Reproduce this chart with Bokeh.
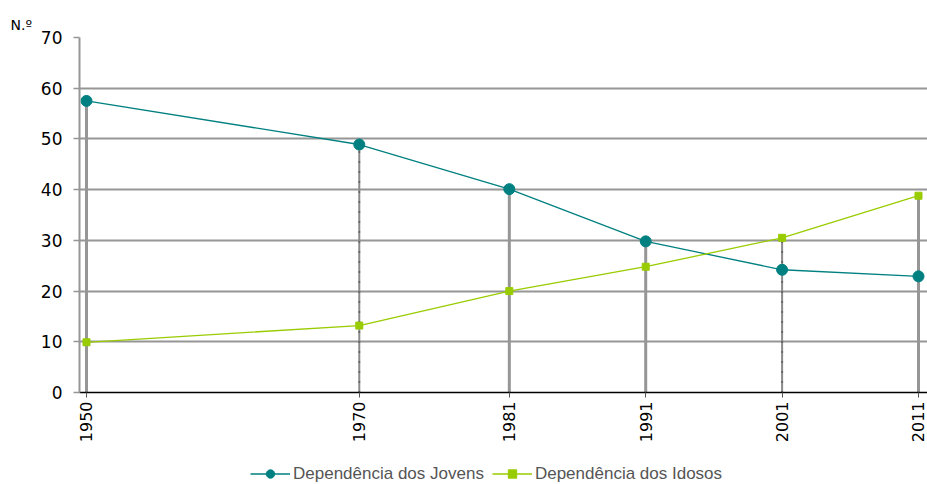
import numpy as np
from bokeh.plotting import figure
from bokeh.layouts import column
from bokeh.models import Range1d, FixedTicker, Legend, LegendItem, ColumnDataSource
from bokeh.embed import file_html
from bokeh.resources import INLINE

years = [1950, 1970, 1981, 1991, 2001, 2011]
year_labels = ["1950", "1970", "1981", "1991", "2001", "2011"]
jovens = [57.5, 48.9, 40.1, 29.8, 24.2, 22.9]
idosos = [9.9, 13.2, 20.0, 24.8, 30.5, 38.8]
y_ticks = [0, 10, 20, 30, 40, 50, 60, 70]
series_names = ["Dependência dos Jovens", "Dependência dos Idosos"]

JOV_COLOR = "#008080"
IDO_COLOR = "#99CC00"
GRID = "#969696"

p = figure(width=927, height=455, output_backend="svg", toolbar_location=None,
           x_range=Range1d(1949.487, 2011.66), y_range=Range1d(0, 70),
           min_border_left=79, min_border_right=0, min_border_top=37, min_border_bottom=63)
p.outline_line_color = None
p.background_fill_color = "white"

p.title.text = "N.º"
p.title.text_font = "DejaVu Sans"
p.title.text_font_size = "14px"
p.title.text_font_style = "normal"
p.title.text_color = "black"
p.title.align = "left"
p.title.offset = -69

# axes
p.xaxis.ticker = FixedTicker(ticks=years)
p.xaxis.major_label_overrides = {y: l for y, l in zip(years, year_labels)}
p.xaxis.major_label_orientation = np.pi / 2
p.xaxis.major_label_text_font = "DejaVu Sans"
p.xaxis.major_label_text_font_size = "16px"
p.xaxis.major_label_text_color = "black"
p.xaxis.axis_line_color = "black"
p.xaxis.axis_line_width = 1.5
p.xaxis.major_tick_line_color = "#555555"
p.xaxis.major_tick_in = 0
p.xaxis.major_tick_out = 5
p.xaxis.minor_tick_line_color = None
p.xaxis.major_label_standoff = 4

p.yaxis.ticker = FixedTicker(ticks=y_ticks)
p.yaxis.major_label_text_font = "DejaVu Sans"
p.yaxis.major_label_text_font_size = "17px"
p.yaxis.major_label_text_color = "black"
p.yaxis.axis_line_color = GRID
p.yaxis.axis_line_width = 2
p.yaxis.major_tick_line_color = GRID
p.yaxis.major_tick_line_width = 1.5
p.yaxis.major_tick_in = 0
p.yaxis.major_tick_out = 6
p.yaxis.minor_tick_line_color = None
p.yaxis.major_label_standoff = 11

p.xgrid.grid_line_color = None
p.ygrid.ticker = FixedTicker(ticks=y_ticks[1:])
p.ygrid.grid_line_color = GRID
p.ygrid.grid_line_width = 2

# drop lines (to the higher of the two values)
tops = np.maximum(np.array(jovens), np.array(idosos))
thick = [0, 2, 3, 5]
thin = [1, 4]
p.segment(x0=[years[i] for i in thick], y0=0, x1=[years[i] for i in thick],
          y1=[tops[i] for i in thick], line_color=GRID, line_width=3)
p.segment(x0=[years[i] for i in thin], y0=0, x1=[years[i] for i in thin],
          y1=[tops[i] for i in thin], line_color="#8a8a8a", line_width=2)
p.segment(x0=[years[i] for i in thin], y0=0, x1=[years[i] for i in thin],
          y1=[tops[i] for i in thin], line_color="#444444", line_width=2, line_dash="1 9")

src = ColumnDataSource(dict(year=years, jovens=jovens, idosos=idosos))

p.line("year", "jovens", source=src, line_color=JOV_COLOR, line_width=1.3)
p.scatter("year", "jovens", source=src, marker="circle", size=11,
          fill_color=JOV_COLOR, line_color=JOV_COLOR)
p.line("year", "idosos", source=src, line_color=IDO_COLOR, line_width=1.3)
p.scatter("year", "idosos", source=src, marker="square", size=7,
          fill_color=IDO_COLOR, line_color=IDO_COLOR)

# legend strip below the chart (legend renderers hold points outside the visible range)
lg = figure(width=927, height=29, output_backend="svg", toolbar_location=None,
            x_range=Range1d(0, 1), y_range=Range1d(0, 1),
            min_border_left=79, min_border_right=0, min_border_top=0, min_border_bottom=0)
lg.axis.visible = False
lg.grid.visible = False
lg.outline_line_color = None
hidden = ColumnDataSource(dict(x=[-10, -9], y=[-10, -10]))
lj = lg.line("x", "y", source=hidden, line_color=JOV_COLOR, line_width=1.3)
mj = lg.scatter("x", "y", source=hidden, marker="circle", size=11,
                fill_color=JOV_COLOR, line_color=JOV_COLOR)
li = lg.line("x", "y", source=hidden, line_color=IDO_COLOR, line_width=1.3)
mi = lg.scatter("x", "y", source=hidden, marker="square", size=7,
                fill_color=IDO_COLOR, line_color=IDO_COLOR)

legend = Legend(items=[LegendItem(label=series_names[0], renderers=[lj, mj], index=0),
                       LegendItem(label=series_names[1], renderers=[li, mi], index=0)],
                orientation="horizontal", location=(171, 0))
legend.label_text_font = "Liberation Sans"
legend.label_text_font_size = "17px"
legend.label_text_color = "#555555"
legend.glyph_width = 40
legend.glyph_height = 21
legend.label_height = 21
legend.label_standoff = 3
legend.spacing = 8
legend.border_line_color = None
legend.background_fill_alpha = 0
legend.padding = 0
legend.margin = 0
lg.add_layout(legend, "center")

layout = column(p, lg, spacing=0)
open("out.html", "w").write(file_html(layout, INLINE))
